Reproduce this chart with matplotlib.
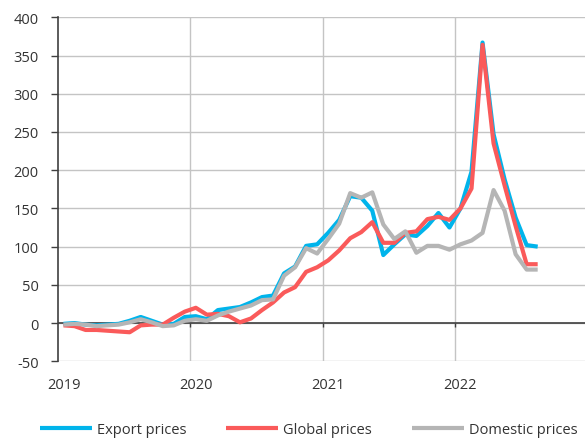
import matplotlib
matplotlib.use("Agg")
import matplotlib.pyplot as plt
import numpy as np

# Monthly readings, Jan 2019 - Aug 2022 (% YoY)
export_prices = [-1, 0, -2, -3, -2, -1, 3, 8, 3, -2, -1,
                 8, 9, 5, 17, 19, 21, 27, 34, 36, 65, 74, 101, 103,
                 118, 135, 166, 164, 147, 89, 103, 116, 114, 127, 144, 125,
                 150, 198, 367, 247, 188, 138, 102, 100]
global_prices = [-3, -4, -9, -9, -10, -11, -12, -3, -2, -2, 7,
                 15, 20, 11, 12, 9, 1, 6, 17, 27, 40, 47, 67, 73,
                 82, 95, 111, 119, 132, 105, 105, 118, 120, 136, 139, 135,
                 150, 176, 364, 235, 180, 127, 77, 77]
domestic_prices = [-2, -1, -2, -4, -3, -2, 1, 5, 1, -4, -3,
                   3, 5, 3, 10, 15, 19, 23, 30, 31, 62, 73, 98, 91,
                   110, 130, 170, 164, 171, 129, 110, 120, 92, 101, 101, 96,
                   103, 108, 118, 174, 147, 90, 70, 70]
series_names = ["Export prices", "Global prices", "Domestic prices"]
year_labels = ["2019", "2020", "2021", "2022"]
y_ticks = list(range(-50, 401, 50))

colors = ["#00B4EB", "#FA5A5A", "#B5B5B5"]
text_color = "#333333"
axis_color = "#404040"
grid_color = "#C4C4C4"

plt.rcParams["font.family"] = ["Open Sans", "DejaVu Sans"]
plt.rcParams["font.size"] = 10.5

fig = plt.figure(figsize=(5.85, 4.39), dpi=100)
ax = fig.add_axes([58 / 585, (439 - 362.3) / 439, 529.3 / 585, 344 / 439])

n_years = 4
x_max = 12 * n_years
ax.set_xlim(0, x_max)
ax.set_ylim(-50, 400)

# y axis
ax.set_yticks(y_ticks)
ax.set_yticklabels([str(v) for v in y_ticks])
ax.tick_params(axis="y", direction="out", length=5, width=1.0,
               color=axis_color, pad=9, labelcolor=text_color, labelsize=10.5)

# x axis: year labels centred on each January, gridlines at year boundaries
ax.set_xticks([12 * i + 0.5 for i in range(len(year_labels))])
ax.set_xticklabels(year_labels)
ax.set_xticks([12 * k for k in range(1, n_years + 1)], minor=True)
ax.tick_params(axis="x", which="both", length=0, pad=11.5,
               labelcolor=text_color, labelsize=10.5)

ax.set_axisbelow(True)
ax.grid(True, axis="y", which="major", color=grid_color, lw=1.0)
ax.grid(True, axis="x", which="minor", color=grid_color, lw=1.0)

x = np.arange(len(export_prices)) + 0.5
handles = []
for vals, col, name, z in zip([export_prices, global_prices, domestic_prices],
                              colors, series_names, [3, 4, 5]):
    h, = ax.plot(x, vals, color=col, lw=3.0, solid_joinstyle="round",
                 solid_capstyle="butt", label=name, zorder=z)
    handles.append(h)

for side in ["top", "right", "bottom"]:
    ax.spines[side].set_visible(False)
ax.spines["left"].set_color(axis_color)
ax.spines["left"].set_linewidth(1.2)
ax.spines["left"].set_zorder(2)

# zero line with year tick marks
ax.axhline(0, color=axis_color, lw=1.2, zorder=2)
ax.vlines([12 * i for i in range(1, n_years + 1)], -5.5, 0,
          color=axis_color, lw=1.0, zorder=2)

fig.legend(handles, series_names, loc="center left",
           bbox_to_anchor=(40 / 585, 1 - 431 / 439), ncol=3, frameon=False,
           handlelength=3.56, handletextpad=0.34, columnspacing=2.74,
           borderpad=0, borderaxespad=0, fontsize=10.5, labelcolor=text_color)

fig.savefig("out.png", dpi=100)
